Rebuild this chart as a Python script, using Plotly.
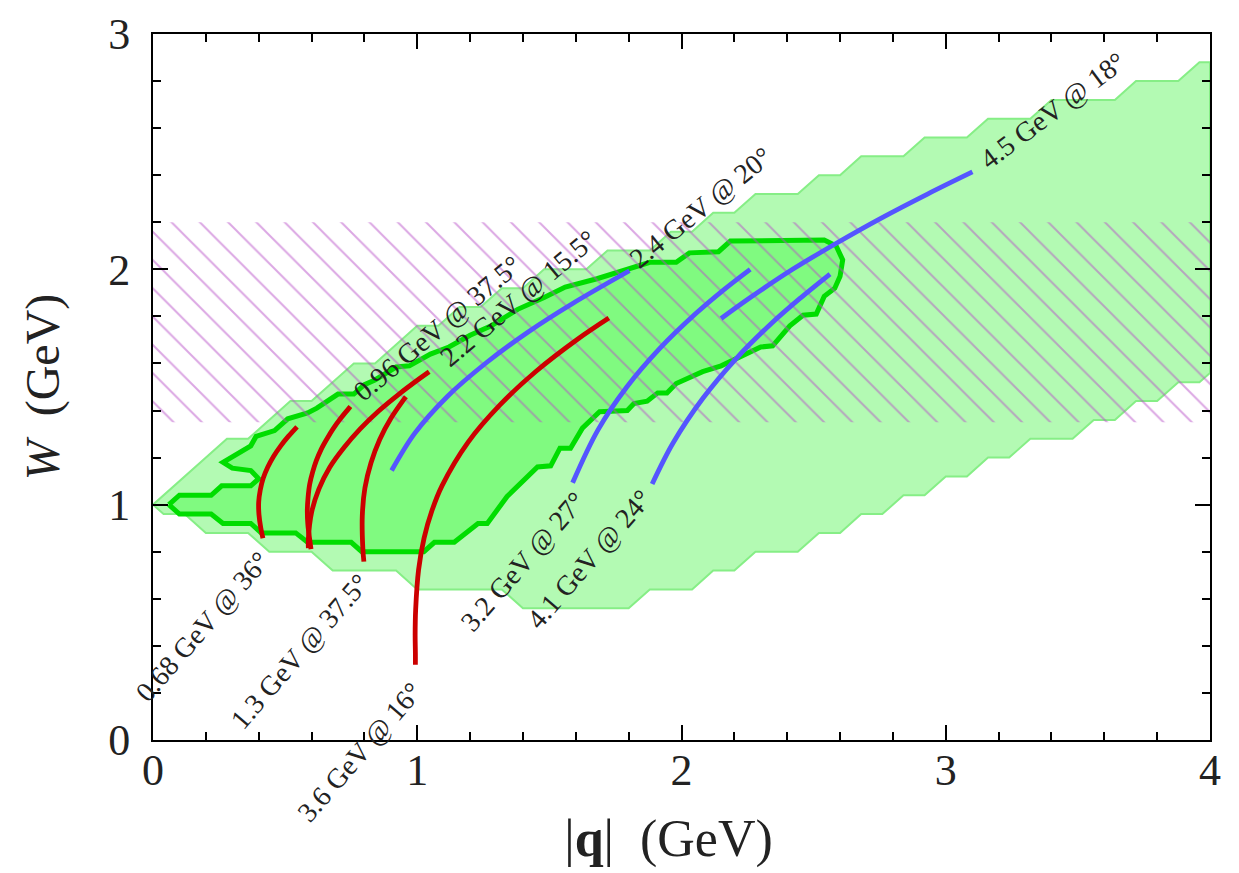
import plotly.graph_objects as go

# ---- accessible region (light) in the (|q|, W) plane, GeV ----
light_q = [0.00, 0.28, 0.36, 0.52, 0.60, 0.76, 0.84, 1.00, 1.08, 1.16, 1.24, 1.32, 1.40,
           1.48, 1.64, 1.72, 1.88, 1.96, 2.04, 2.12, 2.20, 2.28, 2.44, 2.52, 2.60, 2.68,
           2.84, 2.92, 3.08, 3.16, 3.32, 3.40, 3.64, 3.72, 3.88, 3.96, 4.00,
           4.00, 3.96, 3.88, 3.80, 3.72, 3.64, 3.56, 3.48, 3.32, 3.24, 3.16, 3.08, 3.00,
           2.92, 2.84, 2.76, 2.68, 2.60, 2.52, 2.44, 2.28, 2.20, 2.12, 2.04, 1.88, 1.80,
           1.40, 1.32, 1.00, 0.92, 0.68, 0.60, 0.44, 0.36, 0.20, 0.12, 0.04, 0.00]
light_w = [1.00, 1.28, 1.28, 1.44, 1.44, 1.60, 1.60, 1.76, 1.76, 1.84, 1.84, 1.92, 1.92,
           2.00, 2.00, 2.08, 2.08, 2.16, 2.16, 2.24, 2.24, 2.32, 2.32, 2.40, 2.40, 2.48,
           2.48, 2.56, 2.56, 2.64, 2.64, 2.72, 2.72, 2.80, 2.80, 2.88, 2.88,
           1.56, 1.52, 1.52, 1.44, 1.44, 1.36, 1.36, 1.28, 1.28, 1.20, 1.20, 1.12, 1.12,
           1.04, 1.04, 0.96, 0.96, 0.88, 0.88, 0.80, 0.80, 0.72, 0.72, 0.64, 0.64, 0.56,
           0.56, 0.64, 0.64, 0.72, 0.72, 0.80, 0.80, 0.88, 0.88, 0.96, 0.96, 1.00]

# ---- data-covered region (dark, thick outline) ----
dark_q = [0.06, 0.10, 0.22, 0.26, 0.37, 0.40, 0.37, 0.30, 0.265, 0.30, 0.37, 0.39, 0.46,
          0.51, 0.585, 0.62, 0.70, 0.76, 0.80, 0.84, 0.92, 0.97, 1.05, 1.12, 1.20, 1.28,
          1.38, 1.48, 1.56, 1.68, 1.76, 1.88, 1.98, 2.03, 2.14, 2.185, 2.54, 2.585, 2.61,
          2.60, 2.58, 2.54, 2.51, 2.46, 2.41, 2.37, 2.345, 2.30, 2.235, 2.15, 2.08, 1.98,
          1.945, 1.91, 1.87, 1.82, 1.795, 1.73, 1.69, 1.625, 1.58, 1.54, 1.505, 1.455,
          1.40, 1.34, 1.265, 1.23, 1.14, 1.065, 1.025, 0.79, 0.75, 0.585, 0.54, 0.41,
          0.37, 0.265, 0.22, 0.10, 0.06]
dark_w = [1.00, 1.04, 1.04, 1.08, 1.08, 1.11, 1.145, 1.155, 1.18, 1.205, 1.25, 1.29, 1.315,
          1.365, 1.39, 1.41, 1.47, 1.47, 1.51, 1.53, 1.585, 1.59, 1.64, 1.67, 1.72, 1.76,
          1.83, 1.88, 1.925, 1.96, 1.99, 2.03, 2.03, 2.07, 2.075, 2.12, 2.125, 2.10, 2.04,
          1.97, 1.92, 1.885, 1.81, 1.805, 1.76, 1.71, 1.675, 1.67, 1.636, 1.59, 1.565, 1.515,
          1.475, 1.475, 1.44, 1.43, 1.40, 1.40, 1.395, 1.325, 1.24, 1.24, 1.165, 1.16,
          1.10, 1.035, 0.92, 0.92, 0.84, 0.84, 0.80, 0.80, 0.84, 0.84, 0.88, 0.88,
          0.92, 0.92, 0.96, 0.96, 1.00]

# ---- resonance band (hatched) ----
band_q = [0.0, 4.0, 4.0, 0.0, 0.0]
band_w = [1.35, 1.35, 2.2, 2.2, 1.35]

# ---- kinematics at fixed beam energy and angle ----
kin_labels = ["0.68 GeV @ 36°", "0.96 GeV @ 37.5°", "1.3 GeV @ 37.5°", "2.2 GeV @ 15.5°",
              "3.6 GeV @ 16°", "2.4 GeV @ 20°", "3.2 GeV @ 27°", "4.1 GeV @ 24°",
              "4.5 GeV @ 18°"]
kin_q = [
    [0.416, 0.408, 0.401, 0.400, 0.406, 0.417, 0.434, 0.456, 0.482, 0.512, 0.545],
    [0.598, 0.593, 0.586, 0.584, 0.587, 0.593, 0.604, 0.618, 0.636, 0.658, 0.682, 0.709, 0.739, 0.747],
    [0.798, 0.794, 0.792, 0.802, 0.825, 0.858, 0.901, 0.953, 0.957],
    [0.588, 0.588, 0.600, 0.628, 0.669, 0.723, 0.785, 0.854, 0.930, 1.009, 1.045],
    [0.993, 0.993, 0.992, 0.994, 1.005, 1.026, 1.056, 1.094, 1.192, 1.314, 1.452, 1.604, 1.725],
    [0.903, 0.991, 1.115, 1.260, 1.417, 1.585, 1.803],
    [1.588, 1.684, 1.793, 1.917, 2.053, 2.162, 2.260],
    [1.889, 1.968, 2.081, 2.207, 2.343, 2.451, 2.562],
    [2.150, 2.259, 2.419, 2.586, 2.756, 2.931, 3.101],
]
kin_w = [
    [0.857, 0.900, 0.958, 1.012, 1.063, 1.112, 1.159, 1.205, 1.248, 1.290, 1.331],
    [0.811, 0.852, 0.917, 0.977, 1.033, 1.087, 1.138, 1.187, 1.234, 1.279, 1.323, 1.365, 1.406, 1.417],
    [0.758, 0.815, 0.952, 1.071, 1.178, 1.277, 1.368, 1.453, 1.459],
    [0.815, 0.855, 0.967, 1.067, 1.159, 1.243, 1.323, 1.398, 1.469, 1.536, 1.565],
    [0.320, 0.367, 0.446, 0.554, 0.723, 0.859, 0.976, 1.081, 1.265, 1.425, 1.569, 1.701, 1.793],
    [1.145, 1.304, 1.461, 1.602, 1.732, 1.853, 1.994],
    [1.093, 1.318, 1.500, 1.663, 1.811, 1.915, 2.000],
    [1.088, 1.262, 1.452, 1.621, 1.773, 1.879, 1.980],
    [1.791, 1.879, 1.999, 2.111, 2.218, 2.320, 2.414],
]
kin_group = ["red", "red", "red", "red", "red", "blue", "blue", "blue", "blue"]

# label placement: anchor point, anchors of the rotated text box, angle (deg)
label_pos = [
    (0.188, 0.481, "center", "middle", -49),
    (1.074, 1.750, "center", "middle", -40),
    (0.556, 0.375, "center", "middle", -49),
    (1.381, 1.877, "center", "middle", -40),
    (1.050, 0.280, "right", "top", -49),
    (2.072, 2.262, "center", "middle", -39),
    (1.400, 0.760, "center", "middle", -49),
    (1.650, 0.765, "center", "middle", -49),
    (3.405, 2.676, "center", "middle", -37),
]

RED = "#cc0000"
BLUE = "#5555ff"
SERIF = "Liberation Serif"
INK = "#222222"

fig = go.Figure()

fig.add_trace(go.Scatter(
    x=light_q, y=light_w, mode="lines", fill="toself", fillcolor="#b3fab3",
    line=dict(color="#86ee86", width=2), hoverinfo="skip", showlegend=False))

fig.add_trace(go.Scatter(
    x=dark_q, y=dark_w, mode="lines", fill="toself", fillcolor="#80fa80",
    line=dict(color="#00dd00", width=5), hoverinfo="skip", showlegend=False))

# diagonal hatching; the pattern tile is size*sqrt(2) wide, so size 20 -> ~28 px spacing
fig.add_trace(go.Scatter(
    x=band_q, y=band_w, mode="lines", fill="toself", fillcolor="rgba(0,0,0,0)",
    fillpattern=dict(shape="\\", fgcolor="#b850c8", bgcolor="rgba(0,0,0,0)",
                     size=20, solidity=0.1, fillmode="overlay"),
    line=dict(color="rgba(0,0,0,0)", width=0), hoverinfo="skip", showlegend=False))

for q, w, g in zip(kin_q, kin_w, kin_group):
    fig.add_trace(go.Scatter(
        x=q, y=w, mode="lines",
        line=dict(color=RED if g == "red" else BLUE, width=4.8, shape="spline"),
        hoverinfo="skip", showlegend=False))

for text, (xq, yw, xa, ya, ang) in zip(kin_labels, label_pos):
    fig.add_annotation(x=xq, y=yw, xref="x", yref="y", text=text, showarrow=False,
                       textangle=ang, xanchor=xa, yanchor=ya,
                       font=dict(family=SERIF, size=28, color=INK))

axis_common = dict(
    showgrid=False, zeroline=False, showline=True, linecolor="black", linewidth=2,
    mirror="ticks", ticks="inside", ticklen=15, tickwidth=2, tickcolor="black",
    minor=dict(ticks="inside", ticklen=8, tickwidth=1.5, tickcolor="black", dtick=0.2,
               showgrid=False),
    tickfont=dict(family=SERIF, size=44, color=INK),
)

fig.update_xaxes(range=[0, 4], dtick=1, tick0=0, ticklabelstandoff=-10, **axis_common,
                 title=dict(text="|<b>q</b>|&nbsp;&nbsp;(GeV)&nbsp;&nbsp;", standoff=26,
                            font=dict(family=SERIF, size=52, color=INK)))
fig.update_yaxes(range=[0, 3], dtick=1, tick0=0, ticklabelstandoff=12, **axis_common,
                 title=dict(text="<i>W</i>&nbsp;&nbsp;(GeV)", standoff=33,
                            font=dict(family=SERIF, size=48, color=INK)))

fig.update_layout(
    width=1239, height=873,
    margin=dict(l=153, r=29, t=34, b=133, autoexpand=False),
    plot_bgcolor="white", paper_bgcolor="white",
    showlegend=False,
)

fig.write_html("out.html")
